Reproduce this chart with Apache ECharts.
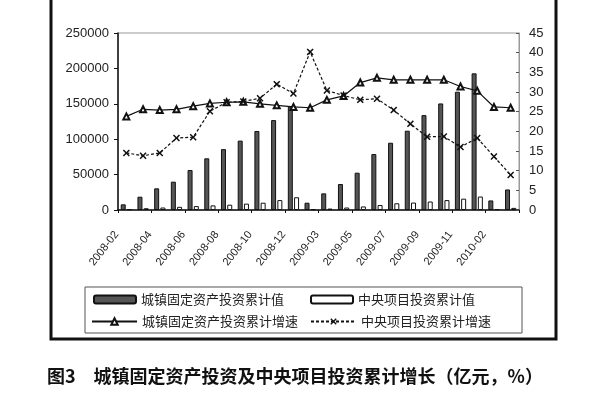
<!DOCTYPE html>
<html>
<head>
<meta charset="utf-8">
<script src="https://cdn.jsdelivr.net/npm/echarts@6/dist/echarts.min.js"></script>
<style>html,body{margin:0;padding:0;background:#fff}#c{width:600px;height:400px}</style>
</head>
<body>
<div id="c"></div>
<script>
var categories = ['2008-02','2008-03','2008-04','2008-05','2008-06','2008-07','2008-08','2008-09','2008-10','2008-11','2008-12',
  '2009-02','2009-03','2009-04','2009-05','2009-06','2009-07','2009-08','2009-09','2009-10','2009-11','2009-12',
  '2010-02','2010-03'];
var urbanInvest = [8000, 18800, 30600, 40000, 56500, 73000, 86000, 98000, 111600, 127000, 146000,
  10300, 23500, 36700, 52700, 79000, 95000, 112000, 134000, 150500, 167000, 193000,
  13500, 29000];
var centralInvest = [1000, 2500, 3500, 4500, 5500, 6500, 7500, 9000, 10300, 14000, 18000,
  1000, 2000, 3500, 5000, 7000, 9500, 10500, 12000, 14000, 16000, 19000,
  1200, 3000];
var urbanGrowth = [23.8, 25.6, 25.4, 25.6, 26.4, 27.1, 27.4, 27.5, 27.0, 26.6, 26.2,
  26.0, 28.0, 29.0, 32.4, 33.6, 33.1, 33.1, 33.1, 33.1, 31.4, 30.3,
  26.2, 26.0];
var centralGrowth = [14.5, 13.8, 14.5, 18.3, 18.5, 25.1, 27.4, 27.6, 28.4, 32.0, 29.6,
  40.2, 30.4, 29.1, 28.0, 28.3, 25.4, 21.9, 18.6, 18.7, 16.0, 18.3,
  13.6, 8.9];
var leftTicks = [0, 50000, 100000, 150000, 200000, 250000];
var rightTicks = [0, 5, 10, 15, 20, 25, 30, 35, 40, 45];
var names = ['城镇固定资产投资累计值', '中央项目投资累计值', '城镇固定资产投资累计增速', '中央项目投资累计增速'];
var titleText = '图3　城镇固定资产投资及中央项目投资累计增长（亿元，%）';

var xSym = 'path://M0,1.5L1.5,0L5,3.5L8.5,0L10,1.5L6.5,5L10,8.5L8.5,10L5,6.5L1.5,10L0,8.5L3.5,5Z';
var cjk = '"Noto Sans CJK SC", sans-serif';
var num = '"Liberation Sans", Arial, sans-serif';
var legendText = {fontSize: 13, fontFamily: cjk, color: '#222'};
var plain = function (v) { return String(v); };

var chart = echarts.init(document.getElementById('c'), null, {renderer: 'canvas'});
chart.setOption({
  animation: false,
  backgroundColor: '#fff',
  grid: {left: 118, right: 81, top: 33, bottom: 190, show: true, borderColor: '#999', borderWidth: 1},
  legend: [
    {data: [names[0]], left: 88, top: 288, itemWidth: 42, itemHeight: 8, textStyle: legendText},
    {data: [names[1]], left: 305, top: 288, itemWidth: 42, itemHeight: 8, textStyle: legendText},
    {data: [names[2]], left: 86, top: 310, itemWidth: 45, itemHeight: 8, textStyle: legendText},
    {data: [names[3]], left: 305, top: 310, itemWidth: 45, itemHeight: 8, textStyle: legendText}
  ],
  xAxis: {
    type: 'category', data: categories, boundaryGap: true,
    axisLine: {lineStyle: {color: '#111', width: 1.5}},
    axisTick: {show: true, length: 3, lineStyle: {color: '#111'}},
    axisLabel: {interval: 1, rotate: 52, fontSize: 11, margin: 10, padding: [0, 16, 0, 0], color: '#222', fontFamily: num}
  },
  yAxis: [
    {type: 'value', min: leftTicks[0], max: leftTicks[leftTicks.length - 1], interval: 50000,
     axisLine: {show: true, lineStyle: {color: '#111', width: 1.5}},
     axisTick: {show: true, length: 4, lineStyle: {color: '#111'}},
     splitLine: {show: false},
     axisLabel: {fontSize: 13, color: '#222', margin: 9, fontFamily: num, formatter: plain}},
    {type: 'value', min: rightTicks[0], max: rightTicks[rightTicks.length - 1], interval: 5,
     axisLine: {show: true, lineStyle: {color: '#999'}},
     axisTick: {show: true, inside: true, length: 3, lineStyle: {color: '#555'}},
     splitLine: {show: false},
     axisLabel: {fontSize: 13, color: '#222', margin: 10, fontFamily: num, formatter: plain}}
  ],
  series: [
    {name: names[0], type: 'bar', data: urbanInvest, yAxisIndex: 0, barWidth: 5, barGap: '25%',
     itemStyle: {color: '#555', borderColor: '#111', borderWidth: 1}},
    {name: names[1], type: 'bar', data: centralInvest, yAxisIndex: 0, barWidth: 5,
     itemStyle: {color: '#fff', borderColor: '#111', borderWidth: 1}},
    {name: names[2], type: 'line', data: urbanGrowth, yAxisIndex: 1,
     symbol: 'emptyTriangle', symbolSize: 6,
     lineStyle: {color: '#111', width: 1.2}, itemStyle: {color: '#111', borderColor: '#111'}},
    {name: names[3], type: 'line', data: centralGrowth, yAxisIndex: 1,
     symbol: xSym, symbolSize: 7,
     lineStyle: {color: '#111', width: 1.2, type: [3, 2]}, itemStyle: {color: '#111'}}
  ],
  graphic: [
    {type: 'rect', shape: {x: 51, y: -5, width: 505, height: 344}, style: {fill: 'none', stroke: '#111', lineWidth: 3}, silent: true},
    {type: 'rect', shape: {x: 85, y: 287, width: 437, height: 46}, style: {fill: 'none', stroke: '#555', lineWidth: 1}, silent: true},
    {type: 'text', x: 47, y: 376, style: {text: titleText, font: 'bold 18px "Noto Sans CJK SC", sans-serif', fill: '#111', textVerticalAlign: 'middle'}, silent: true}
  ]
});
</script>
</body>
</html>
